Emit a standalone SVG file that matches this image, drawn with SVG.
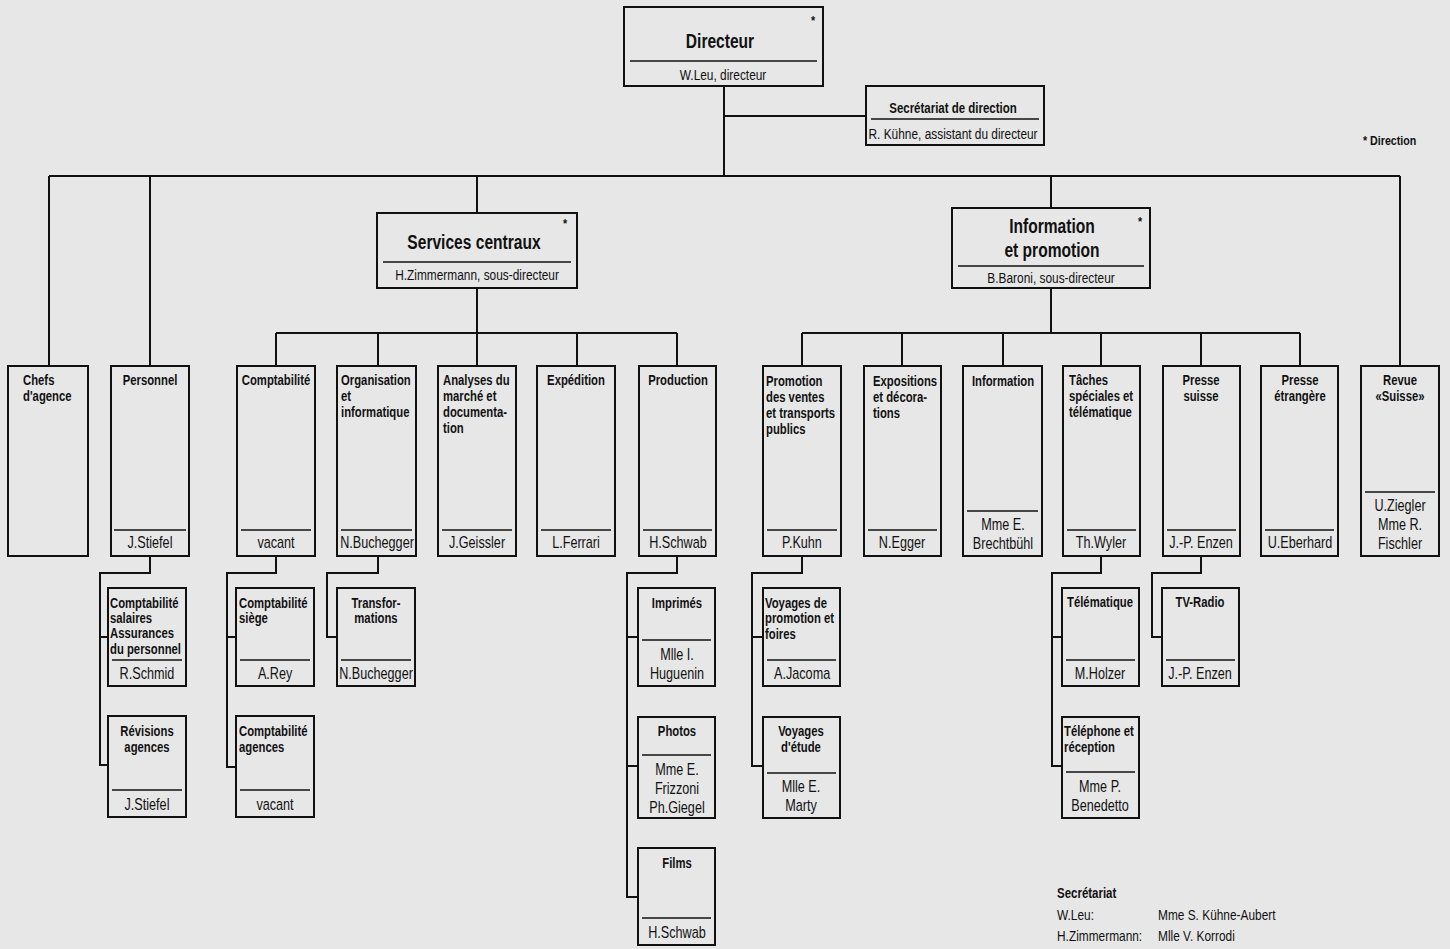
<svg xmlns="http://www.w3.org/2000/svg" width="1450" height="949" viewBox="0 0 1450 949">
<style>
.bg{fill:#e7e7e7}
.b{fill:none;stroke:#111;stroke-width:2}
.d{stroke:#111;stroke-width:1.4}
.c{fill:none;stroke:#111;stroke-width:2}
text{font-family:"Liberation Sans",Arial,sans-serif;fill:#111;transform-box:fill-box;transform-origin:left center;transform:scaleX(0.82)}
.t{font-weight:bold;font-size:13.8px}
.n{font-size:16px;transform:scaleX(0.79)}
.m{text-anchor:middle;transform-origin:center}
.h{font-weight:bold;font-size:20.5px;transform:scaleX(0.76)}
.s{font-size:14.5px}
.a{font-weight:bold;font-size:13px}
</style>
<rect class="bg" x="0" y="0" width="1450" height="949"/>

<g id="connectors">
<path class="c" d="M724,86 V176 M724,116 H866"/>
<path class="c" d="M49,176 H1400 M49,176 V366 M150,176 V366 M477,176 V213 M1051,176 V208 M1400,176 V366"/>
<path class="c" d="M477,288 V333 M276,333 H677 M276,333 V366 M378,333 V366 M477,333 V366 M577,333 V366 M677,333 V366"/>
<path class="c" d="M1051,288 V333 M802,333 H1300 M802,333 V366 M902,333 V366 M1003,333 V366 M1101,333 V366 M1201,333 V366 M1300,333 V366"/>
<path class="c" d="M150,556 V573 H100 V765 H108 M100,637 H108"/>
<path class="c" d="M276,556 V573 H227 V767 H236 M227,637 H236"/>
<path class="c" d="M378,556 V573 H327 V637 H337"/>
<path class="c" d="M677,556 V573 H627 V897 H638 M627,637 H638 M627,766 H638"/>
<path class="c" d="M802,556 V573 H752 V766 H763 M752,637 H763"/>
<path class="c" d="M1101,556 V573 H1052 V766 H1062 M1052,637 H1062"/>
<path class="c" d="M1201,556 V573 H1152 V637 H1162"/>
</g>

<g id="directeur">
<rect class="b" x="624" y="7" width="199" height="79"/>
<line class="d" x1="630" y1="61" x2="817" y2="61"/>
<text class="h m" x="720" y="48">Directeur</text>
<text class="s m" x="723" y="80">W.Leu, directeur</text>
<text class="a" x="811" y="25">*</text>
</g>

<g id="secretariat-direction">
<rect class="b" x="866" y="86" width="178" height="59"/>
<line class="d" x1="871" y1="119" x2="1039" y2="119"/>
<text class="t m" x="953" y="113" style="font-size:14px">Secrétariat de direction</text>
<text class="s m" x="953" y="139">R. Kühne, assistant du directeur</text>
</g>

<g id="legende-direction">
<text class="a" x="1363" y="145">* Direction</text>
</g>

<g id="services-centraux">
<rect class="b" x="377" y="213" width="200" height="75"/>
<line class="d" x1="383" y1="262" x2="571" y2="262"/>
<text class="h m" x="474" y="249">Services centraux</text>
<text class="s m" x="477" y="280">H.Zimmermann, sous-directeur</text>
<text class="a" x="563" y="228">*</text>
</g>

<g id="information-promotion">
<rect class="b" x="952" y="208" width="198" height="80"/>
<line class="d" x1="958" y1="266" x2="1144" y2="266"/>
<text class="h m" x="1052" y="233">Information</text>
<text class="h m" x="1052" y="257">et promotion</text>
<text class="s m" x="1051" y="283">B.Baroni, sous-directeur</text>
<text class="a" x="1138" y="226">*</text>
</g>

<g id="chefs-agence">
<rect class="b" x="8" y="366" width="80" height="190"/>
<text class="t" x="23" y="385">Chefs</text>
<text class="t" x="23" y="401">d'agence</text>
</g>

<g id="personnel">
<rect class="b" x="111" y="366" width="78" height="190"/>
<line class="d" x1="114" y1="530" x2="186" y2="530"/>
<text class="t m" x="150" y="385">Personnel</text>
<text class="n m" x="150" y="548">J.Stiefel</text>
</g>

<g id="comptabilite">
<rect class="b" x="237" y="366" width="78" height="190"/>
<line class="d" x1="241" y1="530" x2="311" y2="530"/>
<text class="t m" x="276" y="385">Comptabilité</text>
<text class="n m" x="276" y="548">vacant</text>
</g>

<g id="organisation">
<rect class="b" x="337" y="366" width="79" height="190"/>
<line class="d" x1="341" y1="530" x2="412" y2="530"/>
<text class="t" x="341" y="385">Organisation</text>
<text class="t" x="341" y="401">et</text>
<text class="t" x="341" y="417">informatique</text>
<text class="n m" x="377" y="548">N.Buchegger</text>
</g>

<g id="analyses">
<rect class="b" x="438" y="366" width="78" height="190"/>
<line class="d" x1="442" y1="530" x2="512" y2="530"/>
<text class="t" x="443" y="385">Analyses du</text>
<text class="t" x="443" y="401">marché et</text>
<text class="t" x="443" y="417">documenta-</text>
<text class="t" x="443" y="433">tion</text>
<text class="n m" x="477" y="548">J.Geissler</text>
</g>

<g id="expedition">
<rect class="b" x="537" y="366" width="78" height="190"/>
<line class="d" x1="541" y1="530" x2="611" y2="530"/>
<text class="t m" x="576" y="385">Expédition</text>
<text class="n m" x="576" y="548">L.Ferrari</text>
</g>

<g id="production">
<rect class="b" x="639" y="366" width="77" height="190"/>
<line class="d" x1="643" y1="530" x2="712" y2="530"/>
<text class="t m" x="678" y="385">Production</text>
<text class="n m" x="678" y="548">H.Schwab</text>
</g>

<g id="promotion-ventes">
<rect class="b" x="763" y="366" width="78" height="190"/>
<line class="d" x1="767" y1="530" x2="837" y2="530"/>
<text class="t" x="766" y="386">Promotion</text>
<text class="t" x="766" y="402">des ventes</text>
<text class="t" x="766" y="418">et transports</text>
<text class="t" x="766" y="434">publics</text>
<text class="n m" x="802" y="548">P.Kuhn</text>
</g>

<g id="expositions">
<rect class="b" x="864" y="366" width="77" height="190"/>
<line class="d" x1="868" y1="530" x2="937" y2="530"/>
<text class="t" x="873" y="386">Expositions</text>
<text class="t" x="873" y="402">et décora-</text>
<text class="t" x="873" y="418">tions</text>
<text class="n m" x="902" y="548">N.Egger</text>
</g>

<g id="information">
<rect class="b" x="963" y="366" width="79" height="190"/>
<line class="d" x1="967" y1="511" x2="1038" y2="511"/>
<text class="t m" x="1003" y="386">Information</text>
<text class="n m" x="1003" y="530">Mme E.</text>
<text class="n m" x="1003" y="549">Brechtbühl</text>
</g>

<g id="taches-speciales">
<rect class="b" x="1063" y="366" width="77" height="190"/>
<line class="d" x1="1067" y1="530" x2="1136" y2="530"/>
<text class="t" x="1069" y="385">Tâches</text>
<text class="t" x="1069" y="401">spéciales et</text>
<text class="t" x="1069" y="417">télématique</text>
<text class="n m" x="1101" y="548">Th.Wyler</text>
</g>

<g id="presse-suisse">
<rect class="b" x="1163" y="366" width="77" height="190"/>
<line class="d" x1="1167" y1="530" x2="1236" y2="530"/>
<text class="t m" x="1201" y="385">Presse</text>
<text class="t m" x="1201" y="401">suisse</text>
<text class="n m" x="1201" y="548">J.-P. Enzen</text>
</g>

<g id="presse-etrangere">
<rect class="b" x="1261" y="366" width="77" height="190"/>
<line class="d" x1="1265" y1="530" x2="1334" y2="530"/>
<text class="t m" x="1300" y="385">Presse</text>
<text class="t m" x="1300" y="401">étrangère</text>
<text class="n m" x="1300" y="548">U.Eberhard</text>
</g>

<g id="revue">
<rect class="b" x="1361" y="366" width="78" height="190"/>
<line class="d" x1="1365" y1="492" x2="1435" y2="492"/>
<text class="t m" x="1400" y="385">Revue</text>
<text class="t m" x="1400" y="401">«Suisse»</text>
<text class="n m" x="1400" y="511">U.Ziegler</text>
<text class="n m" x="1400" y="530">Mme R.</text>
<text class="n m" x="1400" y="549">Fischler</text>
</g>

<g id="comptabilite-salaires">
<rect class="b" x="108" y="588" width="78" height="98"/>
<line class="d" x1="112" y1="660" x2="182" y2="660"/>
<text class="t" x="110" y="608">Comptabilité</text>
<text class="t" x="110" y="623">salaires</text>
<text class="t" x="110" y="638">Assurances</text>
<text class="t" x="110" y="654">du personnel</text>
<text class="n m" x="147" y="679">R.Schmid</text>
</g>

<g id="revisions-agences">
<rect class="b" x="108" y="716" width="78" height="101"/>
<line class="d" x1="112" y1="790" x2="182" y2="790"/>
<text class="t m" x="147" y="736">Révisions</text>
<text class="t m" x="147" y="752">agences</text>
<text class="n m" x="147" y="810">J.Stiefel</text>
</g>

<g id="comptabilite-siege">
<rect class="b" x="236" y="588" width="78" height="98"/>
<line class="d" x1="240" y1="660" x2="310" y2="660"/>
<text class="t" x="239" y="608">Comptabilité</text>
<text class="t" x="239" y="623">siège</text>
<text class="n m" x="275" y="679">A.Rey</text>
</g>

<g id="comptabilite-agences">
<rect class="b" x="236" y="716" width="78" height="101"/>
<line class="d" x1="240" y1="790" x2="310" y2="790"/>
<text class="t" x="239" y="736">Comptabilité</text>
<text class="t" x="239" y="752">agences</text>
<text class="n m" x="275" y="810">vacant</text>
</g>

<g id="transformations">
<rect class="b" x="337" y="588" width="78" height="98"/>
<line class="d" x1="341" y1="660" x2="411" y2="660"/>
<text class="t m" x="376" y="608">Transfor-</text>
<text class="t m" x="376" y="623">mations</text>
<text class="n m" x="376" y="679">N.Buchegger</text>
</g>

<g id="imprimes">
<rect class="b" x="638" y="588" width="77" height="98"/>
<line class="d" x1="642" y1="640" x2="711" y2="640"/>
<text class="t m" x="677" y="608">Imprimés</text>
<text class="n m" x="677" y="660">Mlle I.</text>
<text class="n m" x="677" y="679">Huguenin</text>
</g>

<g id="photos">
<rect class="b" x="638" y="717" width="77" height="101"/>
<line class="d" x1="642" y1="755" x2="711" y2="755"/>
<text class="t m" x="677" y="736">Photos</text>
<text class="n m" x="677" y="775">Mme E.</text>
<text class="n m" x="677" y="794">Frizzoni</text>
<text class="n m" x="677" y="813">Ph.Giegel</text>
</g>

<g id="films">
<rect class="b" x="638" y="848" width="77" height="97"/>
<line class="d" x1="642" y1="918" x2="711" y2="918"/>
<text class="t m" x="677" y="868">Films</text>
<text class="n m" x="677" y="938">H.Schwab</text>
</g>

<g id="voyages-promotion">
<rect class="b" x="763" y="588" width="77" height="98"/>
<line class="d" x1="767" y1="660" x2="836" y2="660"/>
<text class="t" x="765" y="608">Voyages de</text>
<text class="t" x="765" y="623">promotion et</text>
<text class="t" x="765" y="639">foires</text>
<text class="n m" x="802" y="679">A.Jacoma</text>
</g>

<g id="voyages-etude">
<rect class="b" x="763" y="717" width="77" height="101"/>
<line class="d" x1="767" y1="773" x2="836" y2="773"/>
<text class="t m" x="801" y="736">Voyages</text>
<text class="t m" x="801" y="752">d'étude</text>
<text class="n m" x="801" y="792">Mlle E.</text>
<text class="n m" x="801" y="811">Marty</text>
</g>

<g id="telematique">
<rect class="b" x="1062" y="588" width="77" height="98"/>
<line class="d" x1="1066" y1="660" x2="1135" y2="660"/>
<text class="t m" x="1100" y="607">Télématique</text>
<text class="n m" x="1100" y="679">M.Holzer</text>
</g>

<g id="telephone-reception">
<rect class="b" x="1062" y="717" width="77" height="101"/>
<line class="d" x1="1066" y1="772" x2="1135" y2="772"/>
<text class="t" x="1064" y="736">Téléphone et</text>
<text class="t" x="1064" y="752">réception</text>
<text class="n m" x="1100" y="792">Mme P.</text>
<text class="n m" x="1100" y="811">Benedetto</text>
</g>

<g id="tv-radio">
<rect class="b" x="1162" y="588" width="77" height="98"/>
<line class="d" x1="1166" y1="660" x2="1235" y2="660"/>
<text class="t m" x="1200" y="607">TV-Radio</text>
<text class="n m" x="1200" y="679">J.-P. Enzen</text>
</g>

<g id="legende-secretariat">
<text class="a" x="1057" y="898" style="font-size:14px">Secrétariat</text>
<text class="s" x="1057" y="920">W.Leu:</text>
<text class="s" x="1158" y="920">Mme S. Kühne-Aubert</text>
<text class="s" x="1057" y="941">H.Zimmermann:</text>
<text class="s" x="1158" y="941">Mlle V. Korrodi</text>
</g>
</svg>
